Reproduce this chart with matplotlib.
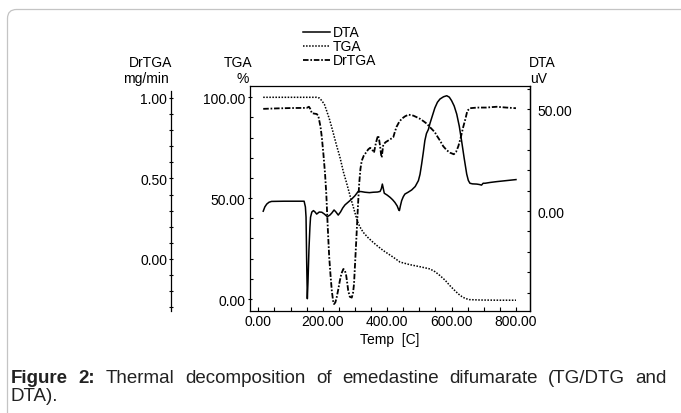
import matplotlib
matplotlib.use("Agg")
import matplotlib.pyplot as plt
from matplotlib.patches import FancyBboxPatch
from matplotlib.lines import Line2D
from matplotlib.transforms import IdentityTransform
from matplotlib.ticker import MultipleLocator, FormatStrFormatter

plt.rcParams['font.family'] = ['Liberation Sans', 'DejaVu Sans']
plt.rcParams['lines.scale_dashes'] = False

# ---------------- data ----------------
tga_temp = [15, 100, 181, 190, 197, 205, 212, 220, 228, 243, 253, 264, 274, 285, 295, 303,
            310, 318, 326, 340, 357, 372, 388, 404, 419, 440, 471, 502, 533, 549, 564, 580,
            595, 608, 621, 632, 642, 655, 688, 750, 800]
tga_pct = [100, 100, 100, 99.6, 98.3, 96.5, 93.3, 89.5, 85, 76, 70.5, 63, 57.5, 51, 45.5, 41,
           37.5, 35, 33, 30.5, 28, 26, 24, 22.3, 20.7, 18.3, 17, 16, 14.9, 13.5, 11.6, 9.3,
           6.6, 4.5, 2.5, 1.2, 0.3, -0.3, -0.5, -0.6, -0.6]

dta_temp = [15, 20, 26, 33, 41, 80, 120, 142, 146, 148, 150, 152, 154, 157, 160, 162, 166, 171,
            176, 181, 189, 197, 205, 214, 222, 228, 235, 241, 248, 255, 262, 269, 280, 290, 300,
            310, 320, 331, 345, 357, 370, 378, 382, 385, 388, 391, 400, 409, 417, 424, 431, 436,
            438, 441, 445, 450, 455, 465, 476, 487, 497, 502, 507, 512, 517, 522, 528, 533, 543,
            548, 556, 564, 575, 585, 593, 600, 608, 616, 624, 631, 639, 647, 652, 657, 665, 678,
            686, 693, 698, 704, 720, 740, 770, 800]
dta_uv = [-0.1, 2.0, 3.4, 4.3, 4.7, 4.8, 4.8, 4.8, 2, -3, -25, -43, -35, -19, -8, -3, -0.5, 0.2,
          -0.5, -1.5, -0.5, -0.6, -1.5, -2.8, -2, -1.0, 0.5, -0.5, -2, -0.5, 1.5, 3.0, 4.5, 5.9, 7.5,
          9.6, 9.5, 9.2, 9.0, 9.2, 9.3, 9.6, 11, 13.2, 11, 8.7, 7.8, 6.7, 5.5, 4.2, 2.5, 0.5,
          0.2, 2.5, 5.1, 7, 8.3, 9.2, 10.3, 12, 14.9, 18, 23, 28.5, 34.5, 38, 40, 43, 48,
          50.5, 53.3, 54.9, 56, 56.5, 55.8, 54.1, 51.5, 47.5, 41.5, 34.5, 26, 18.1, 15, 13.6, 13.3, 13.2,
          13, 12.7, 13.6, 13.6, 14, 14.4, 14.9, 15.4]

dr_temp = [15, 60, 100, 150, 157, 162, 166, 181, 186, 189, 193, 197, 202, 207, 211, 214, 217, 220,
           224, 228, 232, 235, 239, 243, 248, 253, 258, 264, 268, 272, 276, 279, 284, 290, 294, 297,
           301, 305, 309, 313, 317, 321, 327, 334, 341, 347, 353, 359, 362, 365, 369, 372, 375, 378,
           381, 383, 386, 388, 395, 403, 411, 419, 424, 429, 437, 445, 455, 466, 481, 492, 502, 513,
           523, 533, 548, 554, 564, 574, 585, 595, 607, 614, 621, 628, 636, 643, 649, 657, 680, 707,
           740, 770, 800]
dr_rate = [0.932, 0.935, 0.937, 0.938, 0.945, 0.93, 0.905, 0.90, 0.89, 0.86, 0.82, 0.756, 0.65,
           0.53, 0.40, 0.26, 0.13, 0.01, -0.10, -0.197, -0.26, -0.28, -0.27, -0.24, -0.19, -0.135,
           -0.09, -0.062, -0.07, -0.093, -0.15, -0.197, -0.235, -0.24, -0.21, -0.155, 0.0, 0.155,
           0.32, 0.466, 0.56, 0.61, 0.64, 0.66, 0.68, 0.69, 0.68, 0.66, 0.69, 0.72, 0.75, 0.766,
           0.74, 0.70, 0.65, 0.63, 0.68, 0.71, 0.725, 0.735, 0.745, 0.756, 0.79, 0.82, 0.85, 0.87,
           0.885, 0.896, 0.89, 0.88, 0.87, 0.855, 0.84, 0.818, 0.787, 0.766, 0.735, 0.70, 0.675,
           0.66, 0.65, 0.665, 0.70, 0.75, 0.818, 0.87, 0.92, 0.936, 0.94, 0.94, 0.945, 0.94, 0.936]

series_names = ["DTA", "TGA", "DrTGA"]
caption_bold = ["Figure", "2:"]
caption_words = ["Thermal", "decomposition", "of", "emedastine", "difumarate", "(TG/DTG", "and"]
caption_line2 = "DTA)."

# ---------------- layout ----------------
W, H = 681, 414
fig = plt.figure(figsize=(W / 100, H / 100), dpi=100)
fig.patch.set_facecolor("white")


def fx(px):
    return px / W


def fy(py):
    return 1 - py / H


L, R, T, B = 249.5, 529.5, 86.5, 311.5
ax = fig.add_axes([fx(L), fy(B), (R - L) / W, (B - T) / H])
ax.set_xlim(-27.6, 842)
ax.set_ylim(-5.7, 105.85)
ax_dta = ax.twinx()
ax_dta.set_ylim(-48.77, 61.52)
ax_dr = ax.twinx()
ax_dr.set_ylim(-0.32, 1.077)

lw = 1.1
styles = {
    "DTA": dict(color="black", lw=lw, linestyle="-"),
    "TGA": dict(color="black", lw=lw, linestyle=(0, (1.1, 1.1))),
    "DrTGA": dict(color="black", lw=1.3, linestyle=(0, (4.0, 1.3, 1.2, 1.3))),
}
ax_dta.plot(dta_temp, dta_uv, **styles["DTA"])
ax.plot(tga_temp, tga_pct, **styles["TGA"])
ax_dr.plot(dr_temp, dr_rate, **styles["DrTGA"])

spine_w = 0.9
tick_kw = dict(width=0.8, labelsize=10, colors="black")

# main axis: x and TGA (left)
for s in ax.spines.values():
    s.set_linewidth(spine_w)
ax.xaxis.set_major_locator(MultipleLocator(200))
ax.xaxis.set_minor_locator(MultipleLocator(50))
ax.xaxis.set_major_formatter(FormatStrFormatter("%.2f"))
ax.tick_params(axis="x", which="both", direction="in", length=3.2, pad=2.5, top=False, **tick_kw)
ax.yaxis.set_major_locator(MultipleLocator(50))
ax.yaxis.set_minor_locator(MultipleLocator(10))
ax.yaxis.set_major_formatter(FormatStrFormatter("%.2f"))
ax.tick_params(axis="y", which="major", direction="inout", length=3.5, pad=1, **tick_kw)
ax.tick_params(axis="y", which="minor", direction="in", length=2.2, width=0.8)
ax.set_xlabel("Temp  [C]", fontsize=10, labelpad=3)

# DTA (right)
for k, s in ax_dta.spines.items():
    s.set_visible(k == "right")
    s.set_linewidth(spine_w)
ax_dta.yaxis.set_major_locator(MultipleLocator(50))
ax_dta.yaxis.set_minor_locator(MultipleLocator(10))
ax_dta.yaxis.set_major_formatter(FormatStrFormatter("%.2f"))
ax_dta.tick_params(axis="y", which="major", direction="in", length=2.5, pad=5.5, **tick_kw)
ax_dta.tick_params(axis="y", which="minor", direction="in", length=2.5, width=0.8)

# DrTGA (offset left)
for k, s in ax_dr.spines.items():
    s.set_visible(k == "left")
    s.set_linewidth(spine_w)
ax_dr.spines["left"].set_position(("axes", (171 - L) / (R - L)))
ax_dr.spines["left"].set_bounds(-0.32, 1.04)
ax_dr.yaxis.set_ticks_position("left")
ax_dr.yaxis.set_label_position("left")
ax_dr.yaxis.set_major_locator(MultipleLocator(0.5))
ax_dr.yaxis.set_minor_locator(MultipleLocator(0.1))
ax_dr.yaxis.set_major_formatter(FormatStrFormatter("%.2f"))
ax_dr.tick_params(axis="y", which="major", direction="inout", length=3.5, pad=1, **tick_kw)
ax_dr.tick_params(axis="y", which="minor", direction="inout", length=2.5, width=0.8)

# axis headers
hdr = dict(fontsize=10, ha="center", va="center")
fig.text(fx(151), fy(63), "DrTGA", **hdr)
fig.text(fx(146), fy(79), "mg/min", **hdr)
fig.text(fx(238), fy(63), "TGA", **hdr)
fig.text(fx(243), fy(79), "%", **hdr)
fig.text(fx(542), fy(63), "DTA", **hdr)
fig.text(fx(539), fy(79), "uV", **hdr)

# legend (manual, top centre)
for i, name in enumerate(series_names):
    yy = fy(33 + 14 * i)
    fig.add_artist(Line2D([fx(303), fx(330)], [yy, yy], transform=fig.transFigure, **styles[name]))
    fig.text(fx(333), yy, name, fontsize=10, ha="left", va="center")

# rounded frame
frame = FancyBboxPatch((7.5, -30), 720, 403.5 + 30, boxstyle="round,pad=0,rounding_size=9",
                       transform=IdentityTransform(), facecolor="none", edgecolor="#c4c4c4",
                       lw=0.9, clip_on=False)
fig.add_artist(frame)

# caption (justified first line)
cap_kw = dict(fontsize=13.5, va="baseline", ha="left", color="#222222")
fig.canvas.draw()
renderer = fig.canvas.get_renderer()
texts = [fig.text(0, fy(383), w, fontweight="bold", **cap_kw) for w in caption_bold]
texts += [fig.text(0, fy(383), w, **cap_kw) for w in caption_words]
widths = [t.get_window_extent(renderer).width for t in texts]
start, end = 11.0, 667.0
gap = (end - start - sum(widths)) / (len(texts) - 1)
xpos = start
for t, w in zip(texts, widths):
    t.set_x(fx(xpos))
    xpos += w + gap
fig.text(fx(11), fy(401), caption_line2, **cap_kw)

fig.savefig("out.png", dpi=100)
